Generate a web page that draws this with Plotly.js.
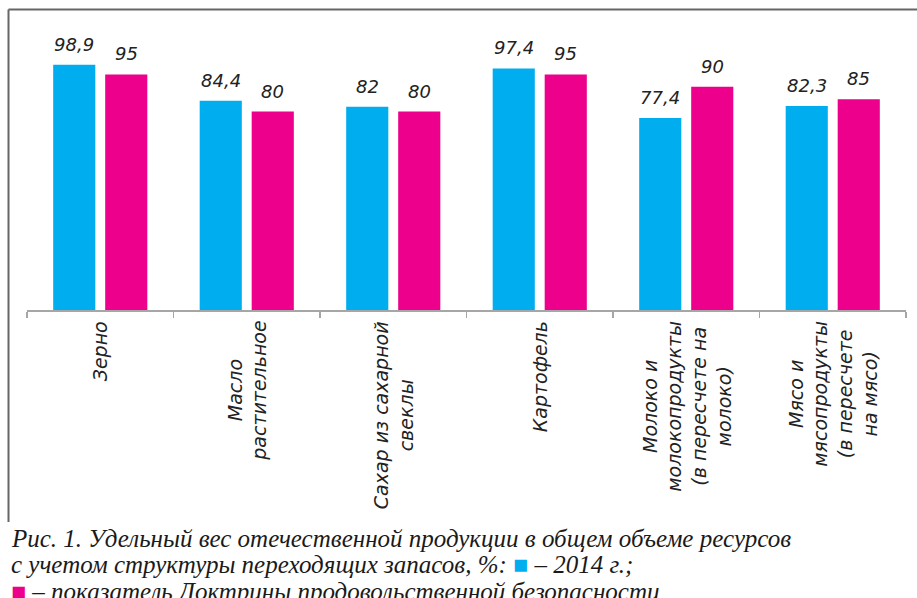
<!DOCTYPE html>
<html>
<head>
<meta charset="utf-8">
<script src="https://cdn.plot.ly/plotly-3.0.1.min.js"></script>
<style>html,body{margin:0;padding:0;background:#fff;}#chart{width:917px;height:598px;}</style>
</head>
<body>
<div id="chart"></div>
<script>
const categories = ["Зерно", "Масло<br>растительное", "Сахар из сахарной<br>свеклы", "Картофель",
  "Молоко и<br>молокопродукты<br>(в пересчете на<br>молоко)", "Мясо и<br>мясопродукты<br>(в пересчете<br>на мясо)"];
const catKeys = ["c1", "c2", "c3", "c4", "c5", "c6"];
const values2014 = [98.9, 84.4, 82, 97.4, 77.4, 82.3];
const valuesDoctrine = [95, 80, 80, 95, 90, 85];
const seriesNames = ["2014 г.", "показатель Доктрины продовольственной безопасности"];
const seriesColors = ["#00AEEF", "#EC008C"];
const captionLines = [
  "Рис. 1. Удельный вес отечественной продукции в общем объеме ресурсов",
  "с учетом структуры переходящих запасов, %: <span style=\"color:#00AEEF\">■</span> – 2014 г.;",
  "<span style=\"color:#EC008C\">■</span> – показатель Доктрины продовольственной безопасности"
];

const fmt = v => String(v).replace('.', ',');
const seriesValues = [values2014, valuesDoctrine];

const traces = seriesValues.map((vals, s) => ({
  type: "bar", name: seriesNames[s], x: catKeys, y: vals, marker: {color: seriesColors[s]}, hoverinfo: "none"
}));

const L = 27, R = 906, T = 62, B = 310;
const bargap = 0.29, bargroupgap = 0.19;
const px2x = p => (p - L) / (R - L);
const px2y = p => (B - p) / (B - T);
const catW = (R - L) / catKeys.length;
const slot = catW * (1 - bargap) / 2;

const annotations = [];
seriesValues.forEach((vals, s) => vals.forEach((v, i) => annotations.push({
  x: catKeys[i], xref: "x", y: v, yref: "y", xshift: (s === 0 ? -1 : 1) * slot / 2, yshift: 8,
  text: fmt(v), showarrow: false, xanchor: "center", yanchor: "bottom",
  font: {family: "DejaVu Sans", size: 18, color: "#222", style: "italic"}
})));
categories.forEach((c, i) => annotations.push({
  x: catKeys[i], xref: "x", y: 0, yref: "paper", yshift: -9,
  text: c, showarrow: false, textangle: -90, xanchor: "center", yanchor: "top", align: "center",
  font: {family: "DejaVu Sans", size: 19, color: "#222", style: "italic"}
}));
const capY = [538, 564, 591];
captionLines.forEach((t, i) => annotations.push({
  x: px2x(9), xref: "paper", y: px2y(capY[i]), yref: "paper", xanchor: "left", yanchor: "middle",
  text: t, showarrow: false, align: "left",
  font: {family: "Liberation Serif", size: 25, color: "#1a1a1a", style: "italic"}
}));

const layout = {
  width: 917, height: 598,
  margin: {l: L, r: 917 - R, t: T, b: 598 - B, pad: 0},
  paper_bgcolor: "#fff", plot_bgcolor: "#fff",
  showlegend: false, barmode: "group", bargap: bargap, bargroupgap: bargroupgap,
  xaxis: {type: "category", showline: true, linecolor: "#a6a6a6", linewidth: 1.5,
    ticks: "outside", tickson: "boundaries", ticklen: 6, tickcolor: "#a6a6a6", tickwidth: 1.5,
    showticklabels: false, showgrid: false, zeroline: false, fixedrange: true},
  yaxis: {visible: false, range: [0, 100], fixedrange: true},
  annotations: annotations,
  shapes: [
    {type: "line", xref: "paper", yref: "paper", x0: px2x(8.5), x1: px2x(930), y0: px2y(9.5), y1: px2y(9.5), line: {color: "#666", width: 2}},
    {type: "line", xref: "paper", yref: "paper", x0: px2x(8.5), x1: px2x(8.5), y0: px2y(9.5), y1: px2y(522), line: {color: "#666", width: 2}}
  ]
};

Plotly.newPlot("chart", traces, layout, {displayModeBar: false, staticPlot: true});
</script>
</body>
</html>
